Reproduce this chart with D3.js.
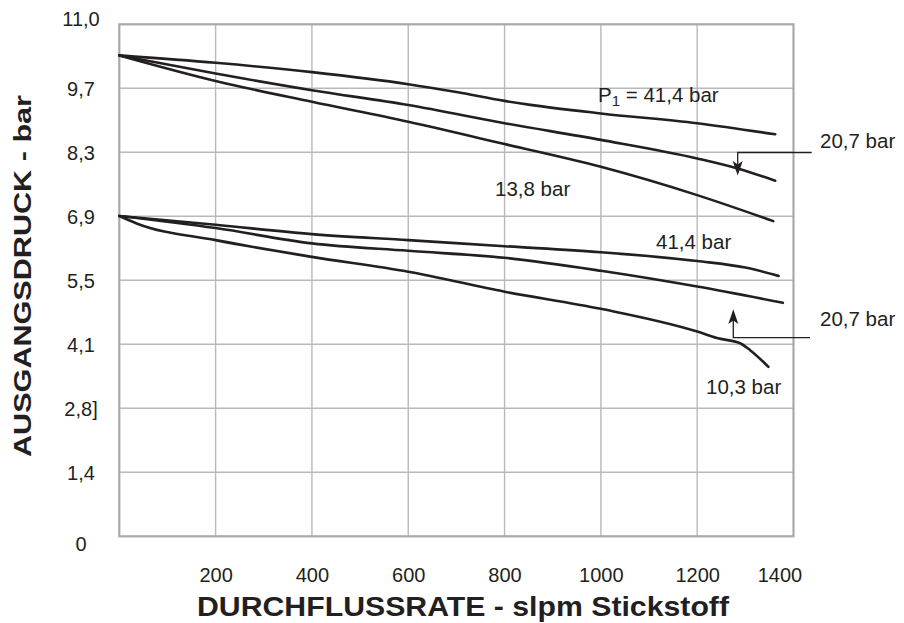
<!DOCTYPE html>
<html>
<head>
<meta charset="utf-8">
<script src="https://cdn.jsdelivr.net/npm/d3@7/dist/d3.min.js"></script>
<style>
  html, body { margin: 0; padding: 0; background: #ffffff; }
  svg { display: block; }
  text { font-family: "Liberation Sans", Arial, sans-serif; fill: #231f20; }
</style>
</head>
<body>
<svg id="chart" width="904" height="623"></svg>
<script>
// ---------- data (bar vs slpm nitrogen) ----------
const flowTicks = [200, 400, 600, 800, 1000, 1200, 1400];
const flowTickLabels = ["200", "400", "600", "800", "1000", "1200", "1400"];
// gridlines every 20 psi, labelled in bar
const pressureTicks = [0, 1.379, 2.758, 4.137, 5.516, 6.895, 8.274, 9.653, 11.03];
const pressureTickLabels = ["0", "1,4", "2,8]", "4,1", "5,5", "6,9", "8,3", "9,7", "11,0"];

// upper group (set 10,3 bar) – inlet pressures 41,4 / 20,7 / 13,8 bar
const hi41Flow = [0, 200, 400, 600, 700, 800, 850, 1000, 1200, 1362];
const hi41Pres = [10.36, 10.20, 10.00, 9.74, 9.57, 9.38, 9.30, 9.11, 8.90, 8.66];
const hi20Flow = [0, 200, 400, 600, 800, 1000, 1200, 1282, 1362];
const hi20Pres = [10.36, 9.97, 9.61, 9.29, 8.90, 8.54, 8.14, 7.93, 7.66];
const hi13Flow = [0, 200, 400, 600, 800, 1000, 1200, 1358];
const hi13Pres = [10.36, 9.81, 9.36, 8.93, 8.45, 7.96, 7.35, 6.79];

// lower group (set 6,9 bar) – inlet pressures 41,4 / 20,7 / 10,3 bar
const lo41Flow = [0, 200, 400, 600, 800, 1000, 1200, 1300, 1369];
const lo41Pres = [6.90, 6.71, 6.51, 6.38, 6.25, 6.12, 5.93, 5.79, 5.61];
const lo20Flow = [0, 200, 400, 600, 800, 1000, 1200, 1378];
const lo20Pres = [6.90, 6.64, 6.31, 6.15, 6.00, 5.72, 5.38, 5.03];
const lo10Flow = [0, 36, 200, 400, 600, 800, 1000, 1200, 1241, 1289, 1310, 1348];
const lo10Pres = [6.90, 6.74, 6.38, 6.02, 5.70, 5.27, 4.90, 4.41, 4.27, 4.16, 4.01, 3.65];

const curves = [
  [hi41Flow, hi41Pres], [hi20Flow, hi20Pres], [hi13Flow, hi13Pres],
  [lo41Flow, lo41Pres], [lo20Flow, lo20Pres], [lo10Flow, lo10Pres]
];

// ---------- layout ----------
const svg = d3.select("#chart");
const plotL = 119.3, plotR = 793.5, plotT = 24.3, plotB = 536.3;

const x = d3.scaleLinear().domain([0, 1400]).range([plotL, plotR]);
const y = d3.scaleLinear().domain([0, 11.03]).range([plotB, plotT]);

const gridColor = "#b9b9bd";
const ink = "#231f20";

// grid
const g = svg.append("g");
g.selectAll("line.vg").data(flowTicks.slice(0, -1)).join("line")
  .attr("x1", d => x(d)).attr("x2", d => x(d))
  .attr("y1", plotT).attr("y2", plotB)
  .attr("stroke", gridColor).attr("stroke-width", 1.4);
g.selectAll("line.hg").data(pressureTicks.slice(1, -1)).join("line")
  .attr("x1", plotL).attr("x2", plotR)
  .attr("y1", d => y(d)).attr("y2", d => y(d))
  .attr("stroke", gridColor).attr("stroke-width", 1.4);
// frame
g.append("rect").attr("x", plotL).attr("y", plotT)
  .attr("width", plotR - plotL).attr("height", plotB - plotT)
  .attr("fill", "none").attr("stroke", "#a9a9ad").attr("stroke-width", 2.2);

// axes (labels only, via d3 axis)
const xAxis = d3.axisBottom(x).tickValues(flowTicks)
  .tickFormat((d, i) => flowTickLabels[i]).tickSize(0).tickPadding(0);
const xg = svg.append("g").attr("transform", `translate(0,${plotB})`).call(xAxis);
xg.select(".domain").remove();
xg.selectAll("text").attr("font-size", 20).attr("y", 46).attr("dy", 0)
  .style("font-family", '"Liberation Sans", Arial, sans-serif').attr("fill", ink)
  .attr("dx", (d, i) => i === flowTicks.length - 1 ? -14 : 0);

const yAxis = d3.axisLeft(y).tickValues(pressureTicks)
  .tickFormat((d, i) => pressureTickLabels[i]).tickSize(0).tickPadding(0);
const yg = svg.append("g").attr("transform", `translate(81,0)`).call(yAxis);
yg.select(".domain").remove();
yg.selectAll("text").attr("font-size", 20).attr("text-anchor", "middle")
  .style("font-family", '"Liberation Sans", Arial, sans-serif').attr("fill", ink)
  .attr("dy", (d, i) => i === 0 ? "0.72em" : (i === pressureTicks.length - 1 ? "0.05em" : "0.35em"));

// axis titles
svg.append("text").attr("x", 463).attr("y", 616)
  .attr("text-anchor", "middle").attr("font-size", 27).attr("font-weight", 900)
  .attr("textLength", 532).attr("lengthAdjust", "spacingAndGlyphs")
  .text("DURCHFLUSSRATE - slpm Stickstoff");
svg.append("text")
  .attr("transform", "translate(31,276) rotate(-90)")
  .attr("text-anchor", "middle").attr("font-size", 23).attr("font-weight", 900)
  .attr("textLength", 362).attr("lengthAdjust", "spacingAndGlyphs")
  .text("AUSGANGSDRUCK - bar");

// curves
const line = d3.line().x(d => x(d[0])).y(d => y(d[1])).curve(d3.curveMonotoneX);
svg.append("g").selectAll("path").data(curves).join("path")
  .attr("d", c => line(c[0].map((f, i) => [f, c[1][i]])))
  .attr("fill", "none").attr("stroke", ink).attr("stroke-width", 2.6)
  .attr("stroke-linejoin", "round").attr("stroke-linecap", "round");

// annotations
const ann = svg.append("g").attr("font-size", 20.5);
const p1 = ann.append("text").attr("x", 598).attr("y", 102);
p1.append("tspan").text("P");
p1.append("tspan").attr("font-size", 15).attr("dy", 4).text("1");
p1.append("tspan").attr("dy", -4).text(" = 41,4 bar");
ann.append("text").attr("x", 495).attr("y", 196).text("13,8 bar");
ann.append("text").attr("x", 820).attr("y", 148).text("20,7 bar");
ann.append("text").attr("x", 656).attr("y", 249).text("41,4 bar");
ann.append("text").attr("x", 820).attr("y", 326).text("20,7 bar");
ann.append("text").attr("x", 706).attr("y", 394).text("10,3 bar");

// leader lines with arrowheads
const lead = svg.append("g").attr("stroke", ink).attr("stroke-width", 1.3).attr("fill", "none");
lead.append("polyline").attr("points", "811.7,152.5 737.7,152.5 737.7,165");
lead.append("polyline").attr("points", "810,337.7 733.3,337.7 733.3,320");
const heads = svg.append("g").attr("fill", ink);
heads.append("path").attr("d", "M732.7,161 L737.7,175.5 L742.7,161 L737.7,164.5 Z");
heads.append("path").attr("d", "M728.3,324 L733.3,309.3 L738.3,324 L733.3,320.5 Z");
</script>
</body>
</html>
